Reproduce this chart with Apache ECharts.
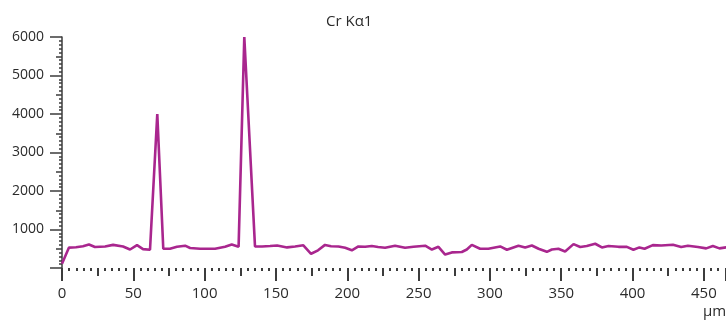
<!DOCTYPE html>
<html>
<head>
<meta charset="utf-8">
<script src="https://cdn.jsdelivr.net/npm/echarts@6/dist/echarts.min.js"></script>
<style>
  html, body { margin: 0; padding: 0; background: #fff; }
  #chart { width: 726px; height: 325px; }
</style>
</head>
<body>
<div id="chart"></div>
<script>
var titleText = 'Cr Kα1';
var unitText = 'µm';

// position along the scan (µm)
var positions = [
  0, 4.9, 9.8, 14.7, 18.9, 23.1, 30.2, 35.8, 42.8, 47.7,
  52.6, 56.8, 61.7, 66.8, 71.0, 75.7, 80.6, 86.3, 89.8, 96.8,
  107.3, 114.3, 119.0, 123.8, 127.8, 135.3, 140.3, 145.9, 150.8, 157.8,
  163.4, 169.2, 174.6, 179.5, 184.4, 188.6, 193.8, 198.5, 203.2, 207.8,
  212.5, 217.2, 221.6, 226.5, 233.5, 240.5, 246.4, 254.6, 259.3, 263.9,
  268.6, 273.3, 280.3, 283.8, 287.3, 293.1, 298.9, 307.2, 311.9, 320.0,
  324.7, 329.4, 334.1, 339.9, 343.4, 348.0, 352.7, 358.6, 363.3, 367.9,
  373.8, 378.5, 383.1, 390.1, 396.0, 400.6, 404.8, 408.4, 414.2, 420.1,
  428.3, 434.1, 438.8, 445.8, 451.6, 456.3, 460.9, 465.6
];

// Cr Ka1 counts
var counts = [
  110, 530, 540, 565, 610, 545, 560, 600, 560, 480,
  595, 490, 475, 4000, 500, 500, 550, 580, 520, 500,
  500, 550, 610, 550, 6000, 560, 560, 570, 585, 535,
  560, 590, 370, 460, 600, 565, 560, 525, 460, 560,
  550, 570, 545, 525, 580, 525, 550, 580, 480, 550,
  350, 405, 415, 480, 600, 500, 500, 560, 475, 580,
  535, 585, 500, 420, 480, 500, 430, 620, 545, 570,
  630, 535, 570, 550, 550, 475, 535, 500, 595, 585,
  605, 545, 580, 545, 510, 570, 510, 535
];

var xMax = 465.5;
var yMax = 6000;

var data = positions.map(function(p, i) { return [p, counts[i]]; });

var ink = '#2b2b2b';
var tickInk = '#3c3c3c';
var lineColor = '#a9268e';
var font = 'Open Sans';

var chart = echarts.init(document.getElementById('chart'), null, { renderer: 'canvas' });
chart.setOption({
  animation: false,
  backgroundColor: '#fff',
  title: {
    text: titleText,
    left: 321,
    top: 9,
    textStyle: { color: ink, fontSize: 15, fontWeight: 'normal', fontFamily: font }
  },
  graphic: [{
    type: 'text',
    left: 703,
    top: 304,
    style: { text: unitText, fill: ink, fontSize: 15, fontFamily: font }
  }],
  grid: { left: 62, right: 0, top: 37, bottom: 57 },
  xAxis: [
    {
      type: 'value',
      min: 0,
      max: xMax,
      interval: 50,
      axisLine: { show: false, onZero: false },
      axisTick: { show: true, length: 13, lineStyle: { color: tickInk, width: 2 } },
      minorTick: { show: true, splitNumber: 10, length: 3, lineStyle: { color: tickInk, width: 2 } },
      splitLine: { show: false },
      axisLabel: {
        color: ink, fontSize: 15, fontFamily: font, margin: 18, showMaxLabel: false,
        formatter: function(v) { return String(v); }
      }
    },
    {
      type: 'value',
      position: 'bottom',
      min: 0,
      max: xMax,
      interval: 25,
      axisLine: { show: false, onZero: false },
      axisTick: { show: true, length: 8, lineStyle: { color: tickInk, width: 2 } },
      splitLine: { show: false },
      axisLabel: { show: false }
    }
  ],
  yAxis: [
    {
      type: 'value',
      min: 0,
      max: yMax,
      interval: 1000,
      axisLine: { show: true, onZero: false, lineStyle: { color: tickInk, width: 1.5 } },
      axisTick: { show: true, length: 12, lineStyle: { color: tickInk, width: 1.5 } },
      minorTick: { show: true, splitNumber: 10, length: 3, lineStyle: { color: tickInk, width: 1.5 } },
      splitLine: { show: false },
      axisLabel: {
        color: ink, fontSize: 14, fontFamily: font, margin: 18, showMinLabel: false,
        formatter: function(v) { return String(v); }
      }
    },
    {
      type: 'value',
      position: 'left',
      min: 0,
      max: yMax,
      interval: 500,
      axisLine: { show: false, onZero: false },
      axisTick: { show: true, length: 6, lineStyle: { color: tickInk, width: 1.5 } },
      splitLine: { show: false },
      axisLabel: { show: false }
    }
  ],
  series: [{
    type: 'line',
    data: data,
    xAxisIndex: 0,
    yAxisIndex: 0,
    symbol: 'none',
    clip: false,
    lineStyle: { color: lineColor, width: 2.6 },
    itemStyle: { color: lineColor }
  }]
});
</script>
</body>
</html>
